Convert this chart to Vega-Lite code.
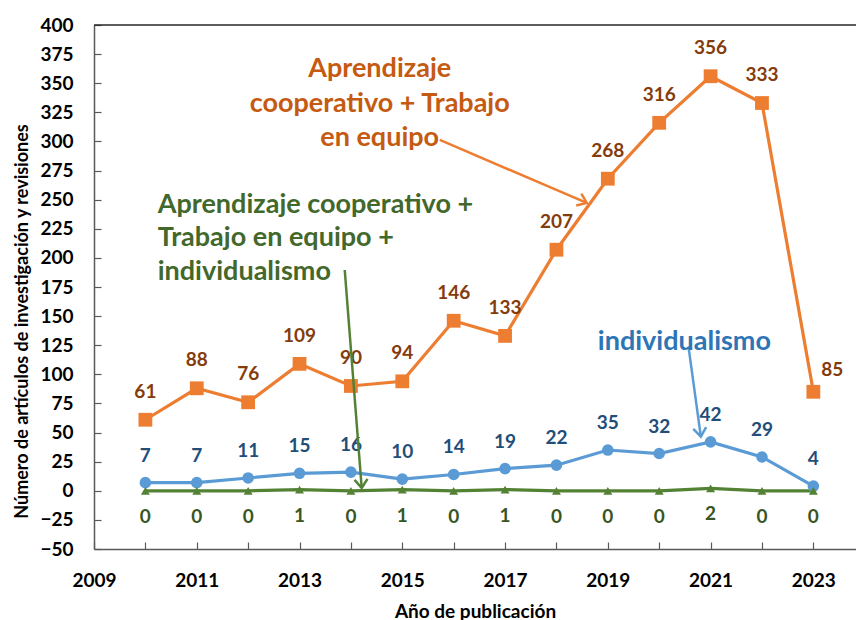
{
  "$schema": "https://vega.github.io/schema/vega-lite/v6.json",
  "width": 762,
  "height": 524,
  "autosize": {"type": "none"},
  "padding": {"left": 94, "top": 25, "right": 0, "bottom": 71},
  "background": "white",
  "config": {
    "view": {"stroke": null},
    "font": "Lato",
    "axis": {
      "domainColor": "#595959",
      "domainWidth": 1.5,
      "tickColor": "#595959",
      "tickWidth": 1.2,
      "tickSize": -7,
      "grid": false,
      "labelFont": "Lato",
      "labelFontWeight": "bold",
      "labelFontSize": 19,
      "labelColor": "#000000",
      "labelFlush": false,
      "labelOverlap": false,
      "titleFont": "Lato",
      "titleFontWeight": "bold",
      "titleColor": "#000000"
    }
  },
  "datasets": {
    "series": [
      {"x": 2010, "y": 61, "serie": "coop"},
      {"x": 2011, "y": 88, "serie": "coop"},
      {"x": 2012, "y": 76, "serie": "coop"},
      {"x": 2013, "y": 109, "serie": "coop"},
      {"x": 2014, "y": 90, "serie": "coop"},
      {"x": 2015, "y": 94, "serie": "coop"},
      {"x": 2016, "y": 146, "serie": "coop"},
      {"x": 2017, "y": 133, "serie": "coop"},
      {"x": 2018, "y": 207, "serie": "coop"},
      {"x": 2019, "y": 268, "serie": "coop"},
      {"x": 2020, "y": 316, "serie": "coop"},
      {"x": 2021, "y": 356, "serie": "coop"},
      {"x": 2022, "y": 333, "serie": "coop"},
      {"x": 2023, "y": 85, "serie": "coop"},
      {"x": 2010, "y": 7, "serie": "indiv"},
      {"x": 2011, "y": 7, "serie": "indiv"},
      {"x": 2012, "y": 11, "serie": "indiv"},
      {"x": 2013, "y": 15, "serie": "indiv"},
      {"x": 2014, "y": 16, "serie": "indiv"},
      {"x": 2015, "y": 10, "serie": "indiv"},
      {"x": 2016, "y": 14, "serie": "indiv"},
      {"x": 2017, "y": 19, "serie": "indiv"},
      {"x": 2018, "y": 22, "serie": "indiv"},
      {"x": 2019, "y": 35, "serie": "indiv"},
      {"x": 2020, "y": 32, "serie": "indiv"},
      {"x": 2021, "y": 42, "serie": "indiv"},
      {"x": 2022, "y": 29, "serie": "indiv"},
      {"x": 2023, "y": 4, "serie": "indiv"},
      {"x": 2010, "y": 0, "serie": "ambos"},
      {"x": 2011, "y": 0, "serie": "ambos"},
      {"x": 2012, "y": 0, "serie": "ambos"},
      {"x": 2013, "y": 1, "serie": "ambos"},
      {"x": 2014, "y": 0, "serie": "ambos"},
      {"x": 2015, "y": 1, "serie": "ambos"},
      {"x": 2016, "y": 0, "serie": "ambos"},
      {"x": 2017, "y": 1, "serie": "ambos"},
      {"x": 2018, "y": 0, "serie": "ambos"},
      {"x": 2019, "y": 0, "serie": "ambos"},
      {"x": 2020, "y": 0, "serie": "ambos"},
      {"x": 2021, "y": 2, "serie": "ambos"},
      {"x": 2022, "y": 0, "serie": "ambos"},
      {"x": 2023, "y": 0, "serie": "ambos"}
    ],
    "notas": [
      {"grupo": "coop", "x": 2014.56, "y": 355.1, "texto": "Aprendizaje"},
      {"grupo": "coop", "x": 2014.56, "y": 325.6, "texto": "cooperativo + Trabajo"},
      {"grupo": "coop", "x": 2014.56, "y": 296.1, "texto": "en equipo"},
      {"grupo": "ambos", "x": 2010.24, "y": 238.6, "texto": "Aprendizaje cooperativo +"},
      {"grupo": "ambos", "x": 2010.24, "y": 210.2, "texto": "Trabajo en equipo +"},
      {"grupo": "ambos", "x": 2010.24, "y": 181.0, "texto": "individualismo"},
      {"grupo": "indiv", "x": 2020.49, "y": 121.0, "texto": "individualismo"}
    ],
    "flechas": [
      {"grupo": "coop", "x": 2015.73, "y": 301.3, "x2": 2018.59, "y2": 247.2},
      {"grupo": "ambos", "x": 2013.88, "y": 189.6, "x2": 2014.21, "y2": 2.4},
      {"grupo": "indiv", "x": 2020.57, "y": 123.8, "x2": 2020.81, "y2": 46.5}
    ],
    "puntas": [
      {"grupo": "coop", "x": 2018.59, "y": 247.2},
      {"grupo": "ambos", "x": 2014.21, "y": 2.4},
      {"grupo": "indiv", "x": 2020.81, "y": 46.5}
    ],
    "borde": [
      {"x": 2009, "y": 400},
      {"x": 2023.83, "y": 400}
    ]
  },
  "encoding": {
    "x": {
      "field": "x", "type": "quantitative",
      "scale": {"domain": [2009, 2023.83], "nice": false, "zero": false},
      "axis": {
        "values": [2009, 2010, 2011, 2012, 2013, 2014, 2015, 2016, 2017, 2018, 2019, 2020, 2021, 2022, 2023],
        "labelExpr": "datum.value % 2 == 1 ? datum.value : ''",
        "labelOverlap": false,
        "labelPadding": 29,
        "title": "Año de publicación",
        "titleFontSize": 19,
        "titlePadding": 12
      }
    },
    "y": {
      "field": "y", "type": "quantitative",
      "scale": {"domain": [-50, 400], "nice": false, "zero": false},
      "axis": {
        "values": [-50, -25, 0, 25, 50, 75, 100, 125, 150, 175, 200, 225, 250, 275, 300, 325, 350, 375, 400],
        "labelOverlap": false,
        "labelPadding": 28,
        "title": "Número de artículos de investigación y revisiones",
        "titleFontSize": 18,
        "titlePadding": 8,
        "titleY": 296
      }
    }
  },
  "layer": [
    {
      "data": {"name": "borde"},
      "mark": {"type": "line", "color": "#262626", "strokeWidth": 1.5, "clip": false}
    },
    {
      "data": {"name": "series"},
      "mark": {"type": "line", "strokeWidth": 3.2},
      "encoding": {
        "color": {
          "field": "serie", "type": "nominal",
          "scale": {"domain": ["ambos", "indiv", "coop"], "range": ["#548235", "#5B9BD5", "#ED7D31"]},
          "legend": null
        }
      }
    },
    {
      "data": {"name": "series"},
      "mark": {"type": "point", "filled": true, "opacity": 1},
      "encoding": {
        "color": {"field": "serie", "type": "nominal", "legend": null},
        "shape": {
          "field": "serie", "type": "nominal",
          "scale": {"domain": ["ambos", "indiv", "coop"], "range": ["triangle-up", "circle", "square"]},
          "legend": null
        },
        "size": {
          "field": "serie", "type": "nominal",
          "scale": {"domain": ["ambos", "indiv", "coop"], "range": [80, 190, 200]},
          "legend": null
        }
      }
    },
    {
      "data": {"name": "series"},
      "transform": [{"filter": "datum.serie == 'coop' && datum.x < 2023"}],
      "mark": {"type": "text", "dy": -28, "fontSize": 19, "fontWeight": "bold", "color": "#843C0C"},
      "encoding": {"text": {"field": "y", "type": "quantitative"}}
    },
    {
      "data": {"name": "series"},
      "transform": [{"filter": "datum.serie == 'coop' && datum.x == 2023"}],
      "mark": {"type": "text", "dx": 19, "dy": -22, "fontSize": 19, "fontWeight": "bold", "color": "#843C0C"},
      "encoding": {"text": {"field": "y", "type": "quantitative"}}
    },
    {
      "data": {"name": "series"},
      "transform": [{"filter": "datum.serie == 'indiv'"}],
      "mark": {"type": "text", "dy": -27, "fontSize": 19, "fontWeight": "bold", "color": "#1F4E79"},
      "encoding": {"text": {"field": "y", "type": "quantitative"}}
    },
    {
      "data": {"name": "series"},
      "transform": [{"filter": "datum.serie == 'ambos'"}],
      "mark": {"type": "text", "dy": 26, "fontSize": 19, "fontWeight": "bold", "color": "#375623"},
      "encoding": {"text": {"field": "y", "type": "quantitative"}}
    },
    {
      "data": {"name": "flechas"},
      "mark": {"type": "rule", "strokeWidth": 2.5},
      "encoding": {
        "x2": {"field": "x2"},
        "y2": {"field": "y2"},
        "color": {"field": "grupo", "type": "nominal", "legend": null}
      }
    },
    {
      "data": {"name": "puntas"},
      "transform": [{"filter": "datum.grupo == 'coop'"}],
      "mark": {"type": "point", "shape": "M -1 -0.75 L 0 0 L -1 0.75", "filled": false, "strokeWidth": 2.5, "size": 300, "angle": 23, "color": "#ED7D31", "opacity": 1}
    },
    {
      "data": {"name": "puntas"},
      "transform": [{"filter": "datum.grupo == 'ambos'"}],
      "mark": {"type": "point", "shape": "M -1 -0.75 L 0 0 L -1 0.75", "filled": false, "strokeWidth": 2.5, "size": 300, "angle": 85.5, "color": "#548235", "opacity": 1}
    },
    {
      "data": {"name": "puntas"},
      "transform": [{"filter": "datum.grupo == 'indiv'"}],
      "mark": {"type": "point", "shape": "M -1 -0.75 L 0 0 L -1 0.75", "filled": false, "strokeWidth": 2.5, "size": 300, "angle": 82.6, "color": "#5B9BD5", "opacity": 1}
    },
    {
      "data": {"name": "notas"},
      "transform": [{"filter": "datum.grupo == 'coop'"}],
      "mark": {"type": "text", "align": "center", "baseline": "alphabetic", "fontSize": 27, "fontWeight": "bold", "color": "#C55A11"},
      "encoding": {"text": {"field": "texto"}}
    },
    {
      "data": {"name": "notas"},
      "transform": [{"filter": "datum.grupo == 'ambos'"}],
      "mark": {"type": "text", "align": "left", "baseline": "alphabetic", "fontSize": 27, "fontWeight": "bold", "color": "#43682B"},
      "encoding": {"text": {"field": "texto"}}
    },
    {
      "data": {"name": "notas"},
      "transform": [{"filter": "datum.grupo == 'indiv'"}],
      "mark": {"type": "text", "align": "center", "baseline": "alphabetic", "fontSize": 27, "fontWeight": "bold", "color": "#2E75B6"},
      "encoding": {"text": {"field": "texto"}}
    }
  ]
}
